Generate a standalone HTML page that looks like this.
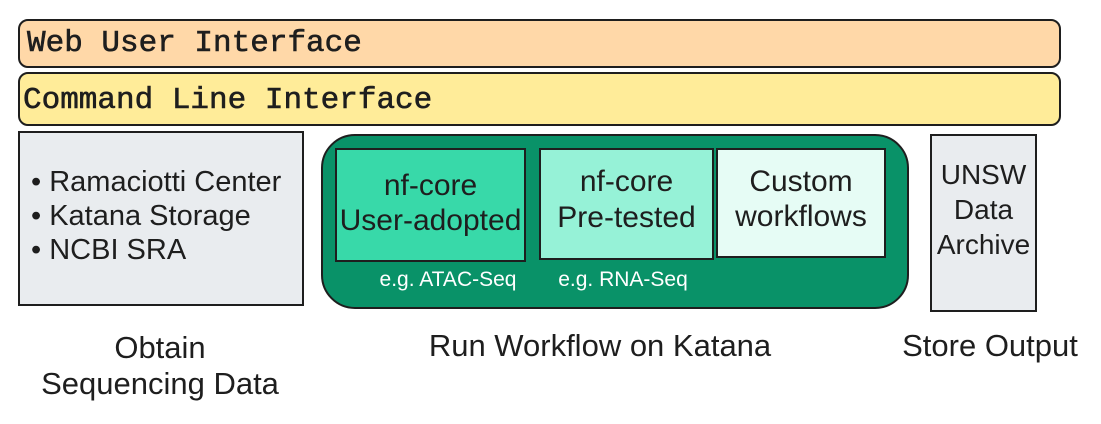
<!DOCTYPE html>
<html><head><style>
body{margin:0;width:1101px;height:424px;background:#fff;position:relative;overflow:hidden;font-family:"Liberation Sans",sans-serif;color:#1e1e1e}
.b{position:absolute;box-sizing:border-box;border:2px solid #1e1e1e}
.t{position:absolute;text-align:center;white-space:nowrap}
.mono{font-family:"Liberation Mono",monospace;font-size:31px;position:absolute;-webkit-text-stroke:0.6px #1e1e1e}
</style></head><body>
<div class="b" style="left:18px;top:19px;width:1043px;height:49px;background:#ffd8a8;border-radius:10px"></div>
<div class="mono" style="left:27px;top:26px">Web User Interface</div>
<div class="b" style="left:18px;top:72px;width:1043px;height:54px;background:#ffec99;border-radius:10px"></div>
<div class="mono" style="left:23px;top:83px">Command Line Interface</div>

<div class="b" style="left:18px;top:131px;width:286px;height:175px;background:#e9ecef;border-radius:0"></div>
<div style="position:absolute;left:31px;top:165px;font-size:29px;line-height:34px">• Ramaciotti Center<br>• Katana Storage<br>• NCBI SRA</div>

<div class="b" style="left:321px;top:134px;width:588px;height:175px;background:#099268;border-radius:34px"></div>
<div class="b" style="left:335px;top:148px;width:191px;height:114px;background:#38d9a9"></div>
<div class="t" style="left:335px;width:191px;top:168px;font-size:30px;line-height:35px">nf-core<br>User-adopted</div>
<div class="b" style="left:539px;top:148px;width:175px;height:112px;background:#96f2d7"></div>
<div class="t" style="left:539px;width:175px;top:164px;font-size:30px;line-height:36px">nf-core<br>Pre-tested</div>
<div class="b" style="left:716px;top:148px;width:170px;height:110px;background:#e6fcf5"></div>
<div class="t" style="left:716px;width:170px;top:164px;font-size:30px;line-height:35px">Custom<br>workflows</div>
<div class="t" style="left:368px;width:160px;top:268px;font-size:21px;color:#fff">e.g. ATAC-Seq</div>
<div class="t" style="left:543px;width:160px;top:268px;font-size:21px;color:#fff">e.g. RNA-Seq</div>

<div class="b" style="left:930px;top:134px;width:107px;height:178px;background:#e9ecef"></div>
<div class="t" style="left:930px;width:107px;top:157px;font-size:28px;line-height:35px">UNSW<br>Data<br>Archive</div>

<div class="t" style="left:30px;width:260px;top:330px;font-size:31px;line-height:36px">Obtain<br>Sequencing Data</div>
<div class="t" style="left:400px;width:400px;top:328px;font-size:31px">Run Workflow on Katana</div>
<div class="t" style="left:890px;width:200px;top:328px;font-size:31px">Store Output</div>
</body></html>
